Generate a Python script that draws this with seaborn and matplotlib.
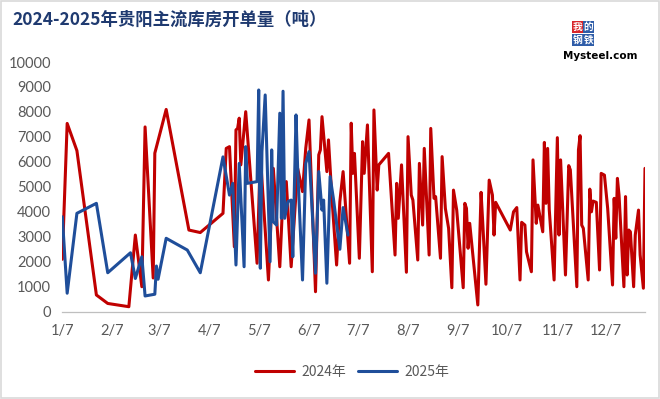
import pandas as pd
import numpy as np
import matplotlib.pyplot as plt
import seaborn as sns
from matplotlib.lines import Line2D
from matplotlib.patches import Rectangle

# 2024 (red)
dates_2024 = ["01-07", "01-10", "01-16", "01-28", "02-04", "02-17", "02-21", "02-25", "02-27", "03-03",
              "03-04", "03-11", "03-25", "04-01", "04-15", "04-17", "04-19", "04-22", "04-23", "04-24",
              "04-25", "04-26", "04-29", "05-06", "05-08", "05-13", "05-16", "05-20", "05-22", "05-24",
              "05-27", "05-31", "06-03", "06-05", "06-07", "06-11", "06-13", "06-14", "06-15", "06-18",
              "06-19", "06-21", "06-24", "06-26", "06-28", "07-02", "07-03", "07-04", "07-05", "07-08",
              "07-10", "07-11", "07-13", "07-16", "07-17", "07-19", "07-20", "07-26", "07-30", "07-31",
              "08-01", "08-03", "08-06", "08-07", "08-09", "08-10", "08-13", "08-14", "08-16", "08-17",
              "08-20", "08-21", "08-23", "08-24", "08-27", "08-28", "08-30", "09-01", "09-03", "09-04",
              "09-06", "09-10", "09-11", "09-12", "09-13", "09-14", "09-19", "09-21", "09-22", "09-24",
              "09-26", "09-28", "09-29", "09-30", "10-09", "10-11", "10-13", "10-15", "10-16", "10-18",
              "10-19", "10-22", "10-23", "10-25", "10-26", "10-29", "10-30", "10-31", "11-01", "11-02",
              "11-05", "11-07", "11-08", "11-09", "11-12", "11-14", "11-15", "11-19", "11-20", "11-21",
              "11-22", "11-23", "11-26", "11-27", "11-28", "11-29", "12-01", "12-03", "12-04", "12-06",
              "12-08", "12-11", "12-12", "12-13", "12-14", "12-15", "12-18", "12-19", "12-20", "12-21",
              "12-22", "12-24", "12-25", "12-27", "12-28", "12-30", "12-31"]
vals_2024 = [2100, 7540, 6450, 670, 330, 200, 3070, 1000, 7400, 1350,
             6350, 8100, 3270, 3170, 3940, 6540, 6610, 2600, 7280, 7340,
             7750, 5880, 8010, 1940, 6280, 1270, 5740, 1800, 4700, 5210,
             1800, 5740, 4810, 6550, 7680, 800, 6280, 6480, 7810, 5610,
             6880, 4670, 1870, 4410, 5610, 1940, 7550, 5540, 6340, 2140,
             6810, 5540, 7480, 1600, 8080, 4870, 5880, 6340, 2270, 5140,
             3740, 5880, 1580, 7010, 4670, 4470, 2070, 5940, 3470, 6540,
             2270, 7340, 4540, 4610, 2140, 6210, 4140, 3340, 960, 4870,
             4070, 960, 4340, 4140, 2540, 3540, 270, 4780, 3600, 1100,
             5270, 4670, 3070, 4380, 3270, 4000, 4170, 1270, 3580, 3470,
             2400, 1600, 6080, 3540, 4270, 3200, 6780, 4340, 6540, 4100,
             1270, 6970, 3070, 6080, 1470, 5850, 5680, 1000, 6480, 7050,
             3470, 3340, 1270, 4910, 4000, 4430, 4380, 1670, 5540, 5470,
             4140, 1070, 4540, 2940, 5340, 4670, 1000, 4610, 1470, 3270,
             3200, 1000, 3070, 4070, 2270, 940, 5740]

# 2025 (blue)
dates_2025 = ["01-07", "01-10", "01-16", "01-28", "02-04", "02-18", "02-21", "02-25", "02-27", "03-04",
              "03-05", "03-06", "03-11", "03-24", "04-01", "04-15", "04-19", "04-21", "04-23", "04-25",
              "04-28", "04-29", "04-30", "05-06", "05-07", "05-08", "05-09", "05-11", "05-14", "05-15",
              "05-16", "05-18", "05-20", "05-21", "05-22", "05-23", "05-25", "05-27", "05-28", "05-30",
              "05-31", "06-03", "06-05", "06-07", "06-11", "06-13", "06-15", "06-16", "06-18", "06-20",
              "06-22", "06-26", "06-28", "07-01"]
vals_2025 = [3800, 740, 3940, 4340, 1560, 2360, 1330, 2200, 630, 700,
             1830, 1300, 2940, 2470, 1560, 6200, 4670, 5140, 1870, 5940,
             1800, 6610, 5140, 5210, 8880, 1740, 6410, 8680, 2000, 6480,
             3600, 3470, 7950, 3740, 8830, 3740, 4410, 4470, 2200, 7880,
             5740, 1270, 5940, 6410, 1540, 5610, 4070, 4470, 1140, 5410,
             4540, 2500, 4170, 3070]

series_names = ["2024年", "2025年"]
tick_labels = ["1/7", "2/7", "3/7", "4/7", "5/7", "6/7", "7/7", "8/7", "9/7", "10/7", "11/7", "12/7"]
colors = {"2024年": "#C00000", "2025年": "#1F4E9A"}

df = pd.concat([
    pd.DataFrame({"md": dates_2024, "value": vals_2024, "series": series_names[0]}),
    pd.DataFrame({"md": dates_2025, "value": vals_2025, "series": series_names[1]}),
])
df["date"] = pd.to_datetime("2024-" + df["md"])

sns.set_style("white")
plt.rcParams["font.family"] = ["Lato", "Noto Sans CJK SC", "DejaVu Sans"]

fig = plt.figure(figsize=(6.6, 3.99), dpi=100)
ax = fig.add_axes([62.3 / 660, 1 - 311.7 / 399, (645 - 62.3) / 660, (311.7 - 62) / 399])

sns.lineplot(data=df, x="date", y="value", hue="series", hue_order=series_names,
             palette=colors, linewidth=2.2, estimator=None, ax=ax, legend=False)

ax.set_xlim(pd.Timestamp("2024-01-07"), pd.Timestamp("2024-12-31"))
ax.set_ylim(0, 10000)
ax.set_yticks(np.arange(0, 10001, 1000))
ax.set_xticks([pd.Timestamp(f"2024-{m:02d}-07") for m in range(1, 13)])
ax.set_xticklabels(tick_labels)
ax.set_xlabel("")
ax.set_ylabel("")

for s in ["left", "top", "right"]:
    ax.spines[s].set_visible(False)
ax.spines["bottom"].set_color("#BFBFBF")
ax.spines["bottom"].set_linewidth(0.9)
ax.tick_params(axis="x", direction="out", length=5, color="#BFBFBF", width=0.9,
               labelsize=10.5, labelcolor="#595959", pad=4)
ax.tick_params(axis="y", length=0, labelsize=10.5, labelcolor="#595959", pad=8)

# title
fig.text(12 / 660, 1 - 20 / 399, "2024-2025年贵阳主流库房开单量（吨）", fontsize=12.5,
         fontweight="bold", color="#1F3A70", va="center", ha="left",
         family=["Noto Sans CJK SC", "DejaVu Sans"])

# legend
handles = [Line2D([0], [0], color=colors[n], lw=2.2) for n in series_names]
fig.legend(handles, series_names, loc="center", bbox_to_anchor=(352 / 660, 1 - 372 / 399),
           ncol=2, frameon=False, handlelength=2.8, columnspacing=0.9, handletextpad=0.5,
           prop={"family": ["Noto Sans CJK SC", "DejaVu Sans"], "size": 10}, labelcolor="#595959")

# logo
logo = [("我", 572, 21, "#D7262B"), ("的", 583, 21, "#2F5DA8"),
        ("钢", 572, 34, "#2F5DA8"), ("铁", 583, 34, "#2F5DA8")]
for ch, lx, ly, c in logo:
    fig.patches.append(Rectangle((lx / 660, 1 - (ly + 12) / 399), 10.5 / 660, 12 / 399,
                                 transform=fig.transFigure, facecolor=c, edgecolor="none"))
    fig.text((lx + 5.25) / 660, 1 - (ly + 6) / 399, ch, fontsize=7, color="white",
             ha="center", va="center", fontweight="bold", family=["Noto Sans CJK SC"])
fig.text(563 / 660, 1 - 56 / 399, "Mysteel.com", fontsize=7.5, fontweight="bold", color="black",
         ha="left", va="center", family=["DejaVu Sans"])

# frame
fig.patches.append(Rectangle((0.002, 0.003), 0.996, 0.994, transform=fig.transFigure,
                             fill=False, edgecolor="#D9D9D9", lw=1.2))

fig.savefig("out.png", dpi=100)
